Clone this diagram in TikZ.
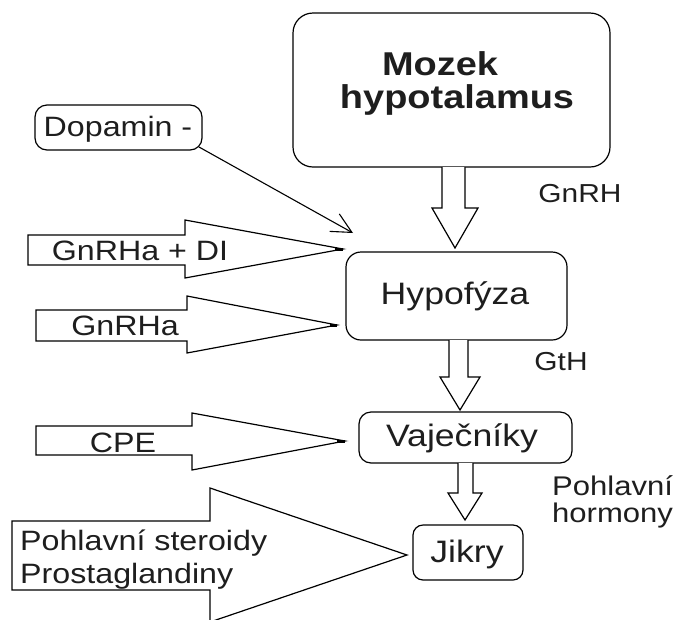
\documentclass[tikz,border=0pt]{standalone}
\usepackage{fontspec}
\setmainfont[FakeStretch=1.15]{Liberation Sans}
\usetikzlibrary{arrows.meta}
\definecolor{txt}{HTML}{1E1E1E}
\tikzset{
  box/.style={draw, line width=1.2pt, rounded corners=#1, inner sep=0pt},
  lbl/.style={anchor=base, inner sep=0pt, text=txt},
  lblw/.style={anchor=base west, inner sep=0pt, text=txt},
  blk/.style={draw, line width=1.2pt, fill=white, line join=miter},
  stub/.style={line width=3pt},
  thin/.style={line width=1.1pt},
}
\newcommand{\fsA}{\fontsize{28}{33}\selectfont}
\newcommand{\fsB}{\fontsize{31}{36}\selectfont}
\newcommand{\fsC}{\fontsize{26}{30}\selectfont}
\begin{document}
\begin{tikzpicture}[x=1pt,y=-1pt]
\useasboundingbox (0,0) rectangle (682,619);
\fill[white] (0,0) rectangle (682,619);

% boxes
\node[box=20pt, minimum width=317pt, minimum height=154pt] (mozek) at (451.5,90) {};
\node[box=15pt, minimum width=221pt, minimum height=88pt] (hypo) at (456.5,296) {};
\node[box=12pt, minimum width=213pt, minimum height=51pt] (vaj) at (465.5,437.5) {};
\node[box=10pt, minimum width=110pt, minimum height=55pt] (jikry) at (468,552.5) {};
\node[box=12pt, minimum width=167pt, minimum height=45pt] (dopa) at (118.5,127.5) {};

% box texts
\node[lbl] (tmoz) at (440,75) {\fontsize{33}{38}\selectfont\bfseries Mozek};
\node[lbl] (thyp) at (457,108) {\fontsize{33}{38}\selectfont\bfseries hypotalamus};
\node[lbl] (thypo) at (455,304) {\fsB Hypofýza};
\node[lbl] (tvaj) at (462,446) {\fsB Vaječníky};
\node[lbl] (tjik) at (467,562) {\fsB Jikry};
\node[lbl] (tdop) at (118,136) {\fsA Dopamin -};

% down block arrows
\draw[blk] (442,167) -- (442,208) -- (432,208) -- (455,248) -- (478,208) -- (465,208) -- (465,167);
\draw[blk] (449,340) -- (449,377) -- (440,377) -- (460,410) -- (480,377) -- (468,377) -- (468,340);
\draw[blk] (458,463) -- (458,493) -- (448,493) -- (465,520) -- (482,493) -- (473,493) -- (473,463);

% right labels
\node[lbl] (lgnrh) at (580,202) {\fsC GnRH};
\node[lbl] (lgth) at (561,370) {\fsC GtH};
\node[lblw] (lph1) at (552,495) {\fontsize{27}{30}\selectfont Pohlavní};
\node[lblw] (lph2) at (552,522) {\fontsize{27}{30}\selectfont hormony};

% Dopamin arrow
\coordinate (dstart) at (199,147);
\coordinate (dtip) at (353,233);
\draw[thin, -{Straight Barb[length=20pt,width=20pt,line width=1.1pt]}] (dstart) -- (dtip);

% left block arrows
\draw[blk] (28,235) -- (185,235) -- (185,220) -- (343,249) -- (185,278) -- (185,265) -- (28,265) -- cycle;
\draw[stub] (335,249) -- (343,249);
\node[lbl] (lgd) at (140,260) {\fsA GnRHa + DI};

\draw[blk] (36,310) -- (187,310) -- (187,296) -- (337,325) -- (187,353) -- (187,341) -- (36,341) -- cycle;
\draw[stub] (330,325) -- (337,325);
\node[lbl] (lg) at (125,335) {\fsA GnRHa};

\draw[blk] (36,426) -- (192,426) -- (192,413) -- (345,441) -- (192,470) -- (192,455) -- (36,455) -- cycle;
\draw[stub] (337,441) -- (345,441);
\node[lbl] (lcpe) at (123,452) {\fsA CPE};

\draw[blk] (12,521) -- (210,521) -- (210,488) -- (407,555) -- (210,622) -- (210,590) -- (12,590) -- cycle;
\node[lblw] (lps) at (20,550) {\fsA Pohlavní steroidy};
\node[lblw] (lpr) at (20,583) {\fsA Prostaglandiny};
\end{tikzpicture}
\end{document}
